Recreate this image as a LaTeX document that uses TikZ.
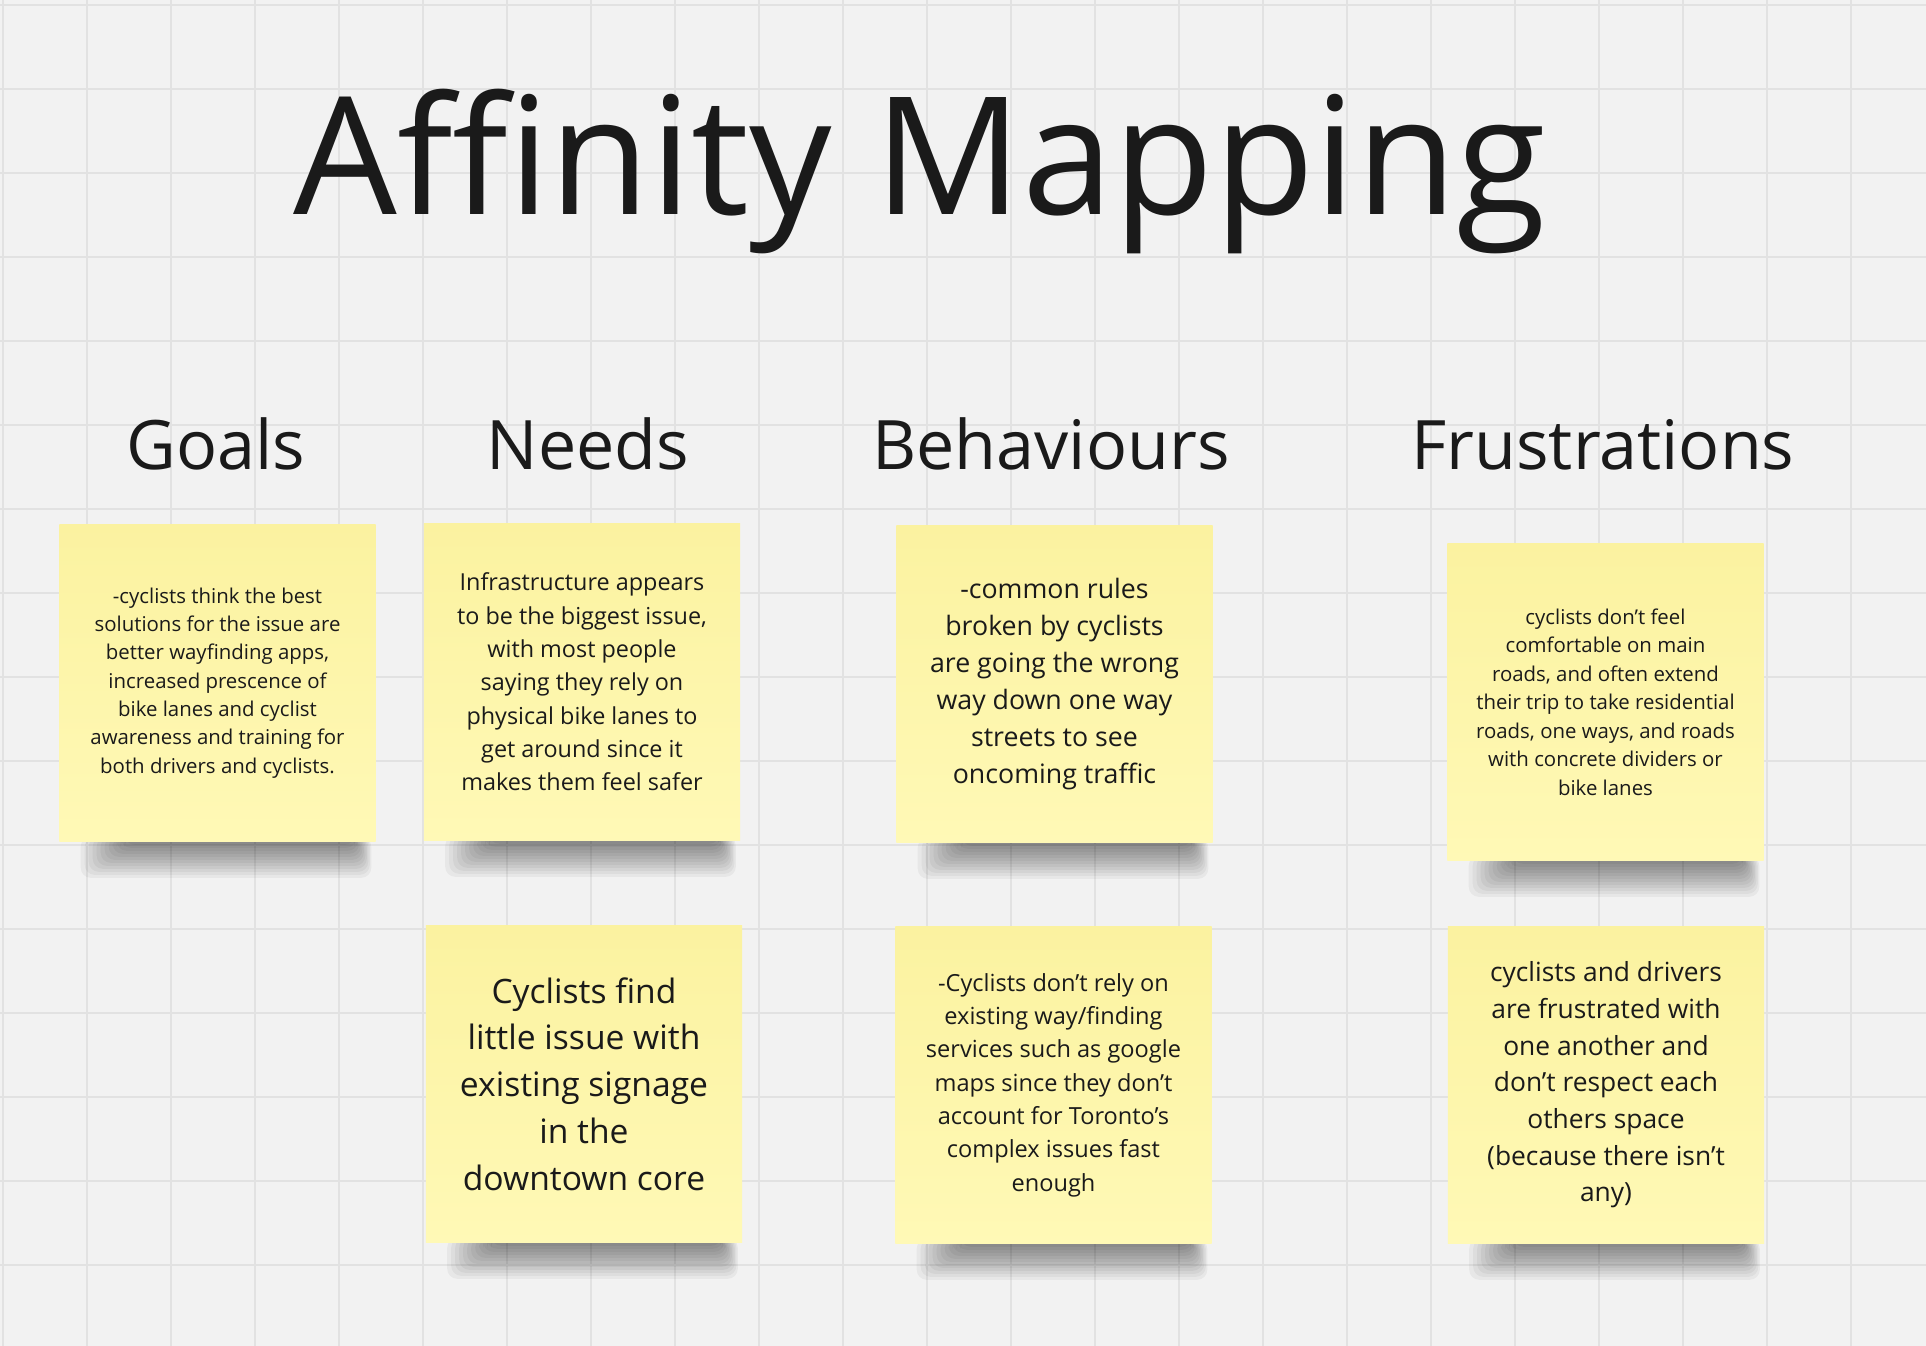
\documentclass[tikz,border=0pt]{standalone}
\usepackage{fontspec}
\setmainfont{Open Sans}
\usetikzlibrary{backgrounds}
\definecolor{board}{RGB}{242,242,242}
\definecolor{gridgray}{RGB}{226,226,226}
\definecolor{ink}{RGB}{26,26,26}
\definecolor{stickytop}{RGB}{251,242,160}
\definecolor{stickybot}{RGB}{255,249,182}
\begin{document}
\begin{tikzpicture}[x=0.01cm,y=-0.01cm,
  sticky/.style={top color=stickytop,bottom color=stickybot,minimum width=3.16cm,
    minimum height=3.16cm,inner sep=0pt,align=center,text=ink},
  heading/.style={anchor=base,text=ink,font=\fontsize{19.4}{23}\selectfont}]
\useasboundingbox (0,0) rectangle (1926,1346);
\node[anchor=base,text=ink,font=\fontsize{46.6}{56}\selectfont] (title) at (920,215) {Affinity Mapping};
\node[heading] (goals) at (216,470) {Goals};
\node[heading] (needs) at (588,470) {Needs};
\node[heading] (behaviours) at (1051,470) {Behaviours};
\node[heading] (frustrations) at (1603,470) {Frustrations};
\node[sticky,font=\fontsize{5.8}{8.05}\selectfont] (goal) at (217.5,683)
  {-cyclists think the best\\solutions for the issue are\\better wayfinding apps,\\increased prescence of\\bike lanes and cyclist\\awareness and training for\\both drivers and cyclists.};
\node[sticky,font=\fontsize{6.65}{9.48}\selectfont] (needA) at (582,682)
  {Infrastructure appears\\to be the biggest issue,\\with most people\\saying they rely on\\physical bike lanes to\\get around since it\\makes them feel safer};
\node[sticky,font=\fontsize{9.56}{13.3}\selectfont] (needB) at (584,1084)
  {Cyclists find\\little issue with\\existing signage\\in the\\downtown core};
\node[sticky,font=\fontsize{7.6}{10.5}\selectfont] (behA) at (1054.5,684)
  {-common rules\\broken by cyclists\\are going the wrong\\way down one way\\streets to see\\oncoming traffic};
\node[sticky,font=\fontsize{6.7}{9.48}\selectfont] (behB) at (1053.5,1085)
  {-Cyclists don’t rely on\\existing way/finding\\services such as google\\maps since they don’t\\account for Toronto’s\\complex issues fast\\enough};
\node[sticky,font=\fontsize{5.8}{8.1}\selectfont] (fruA) at (1605.5,702)
  {cyclists don’t feel\\comfortable on main\\roads, and often extend\\their trip to take residential\\roads, one ways, and roads\\with concrete dividers or\\bike lanes};
\node[sticky,font=\fontsize{7.5}{10.44}\selectfont] (fruB) at (1606,1085)
  {cyclists and drivers\\are frustrated with\\one another and\\don’t respect each\\others space\\(because there isn’t\\any)};
\begin{scope}[on background layer]
\fill[board] (0,0) rectangle (1926,1346);
\foreach \x in {3,87,...,1900}
  \draw[gridgray,line width=0.6pt] (\x,0) -- (\x,1346);
\foreach \y in {5,89,...,1340}
  \draw[gridgray,line width=0.6pt] (0,\y) -- (1926,\y);
\foreach \n in {goal,needA,needB,behA,behB,fruA,fruB}
  \foreach \k in {0,...,11}
    \fill[black,opacity=0.045,rounded corners=0.1cm]
      ([xshift=0.22cm+0.04cm*\k,yshift=0.05cm]\n.south west) rectangle
      ([xshift=-0.05cm-0.015cm*\k,yshift=-0.36cm+0.03cm*\k]\n.south east);
\end{scope}
\end{tikzpicture}
\end{document}
